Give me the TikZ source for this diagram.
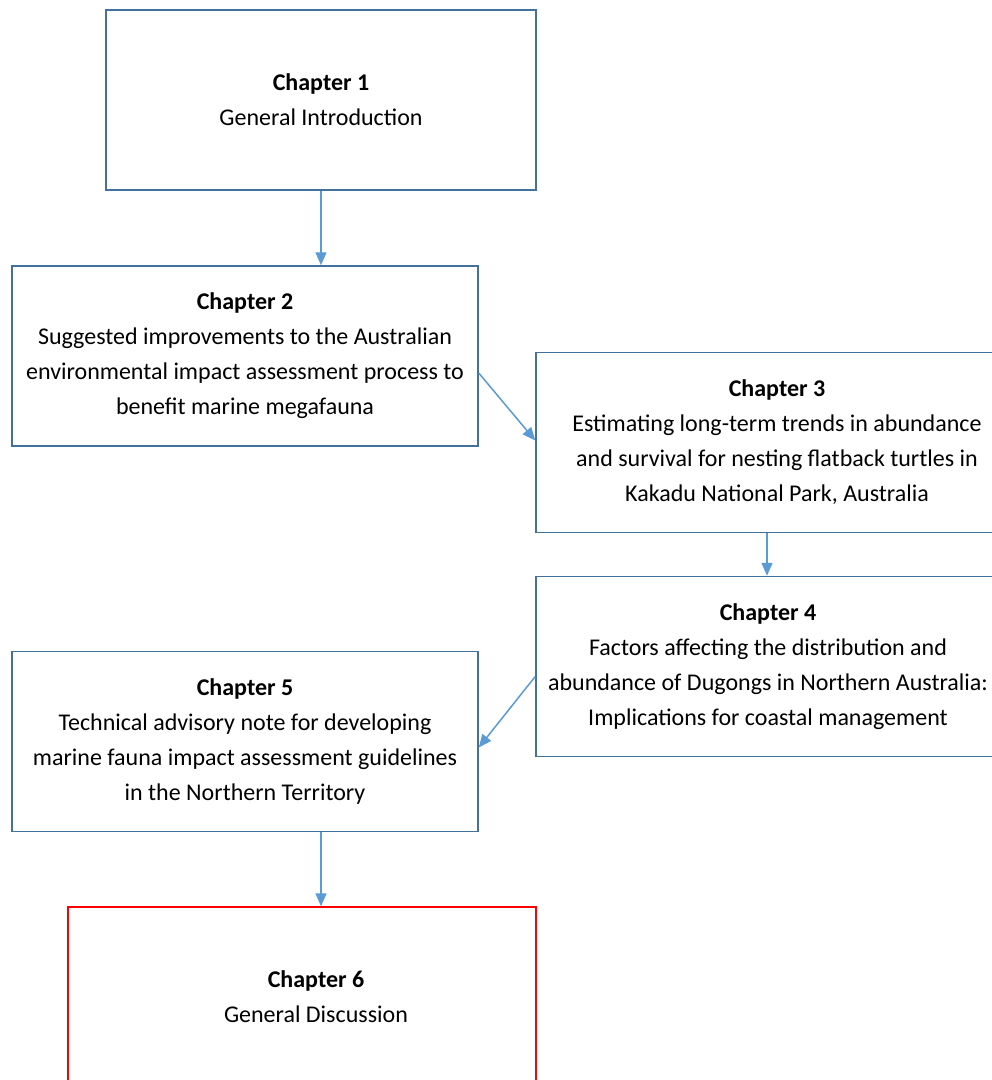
\documentclass[tikz,border=0pt]{standalone}
\usepackage{fontspec}
\setmainfont{Carlito}
\usetikzlibrary{arrows.meta}
\definecolor{boxblue}{HTML}{41719C}
\definecolor{arrowblue}{HTML}{5B9BD5}
\definecolor{boxred}{HTML}{FF0000}
\tikzset{
  chapbox/.style={draw=boxblue, line width=1.5pt, fill=white, minimum height=180pt,
    align=center, inner sep=0pt, font=\fontsize{24pt}{35pt}\selectfont},
  chaptext/.style={align=center, inner sep=0pt, font=\fontsize{24pt}{35pt}\selectfont},
  flow/.style={draw=arrowblue, line width=1.5pt, -{Triangle[length=13pt,width=11pt]}},
}
\begin{document}
\begin{tikzpicture}[x=1pt,y=-1pt]
  \useasboundingbox (0,0) rectangle (992,1080);
  \clip (0,0) rectangle (992,1080);
  \fill[white] (0,0) rectangle (992,1080);

  \node[chapbox, minimum width=430pt] (b1) at (321,100)
    {\textbf{Chapter 1}\\General Introduction};
  \node[chapbox, minimum width=466pt] (b2) at (245,356)
    {\textbf{Chapter 2}\\Suggested improvements to the Australian\\environmental impact assessment process to\\benefit marine megafauna};
  \node[chapbox, minimum width=482pt] (b3) at (777,442.5)
    {\textbf{Chapter 3}\\Estimating long-term trends in abundance\\and survival for nesting flatback turtles in\\Kakadu National Park, Australia};
  \node[chapbox, minimum width=464pt] (b4) at (768,666.5)
    {\textbf{Chapter 4}\\Factors affecting the distribution and\\abundance of Dugongs in Northern Australia:\\Implications for coastal management};
  \node[chapbox, minimum width=466pt] (b5) at (245,741.5)
    {\textbf{Chapter 5}\\Technical advisory note for developing\\marine fauna impact assessment guidelines\\in the Northern Territory};
  % final chapter: red frame, its text set a little right of the frame's centre
  \node[chapbox, draw=boxred, minimum width=468pt] (b6) at (302,997) {};
  \node[chaptext] (b6t) at (316,997) {\textbf{Chapter 6}\\General Discussion};

  \draw[flow] (b1.south -| 321,0) -- (b2.north -| 321,0);
  \draw[flow] ([yshift=-17pt]b2.east) -- ([yshift=2pt]b3.west);
  \draw[flow] (b3.south -| 767,0) -- (b4.north -| 767,0);
  \draw[flow] ([yshift=-10pt]b4.west) -- ([yshift=-6pt]b5.east);
  \draw[flow] (b5.south -| 321,0) -- (b6.north -| 321,0);
\end{tikzpicture}
\end{document}
